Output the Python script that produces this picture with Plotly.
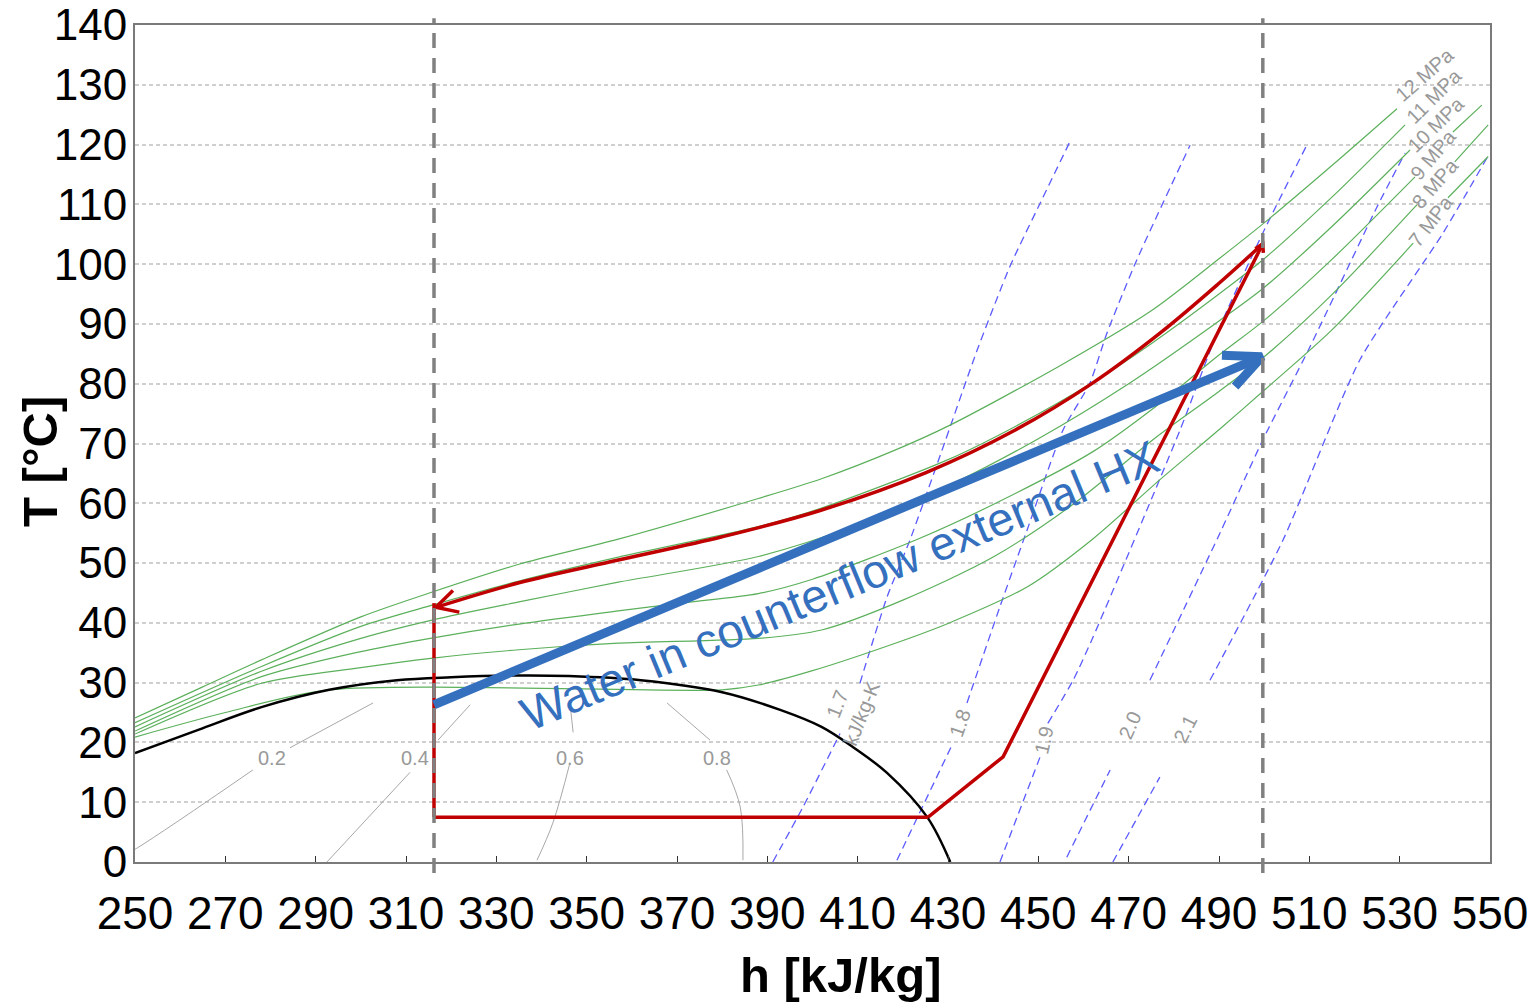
import math
import plotly.graph_objects as go

# ---------------- data ----------------
h_ticks = list(range(250, 551, 20))
T_ticks = list(range(0, 141, 10))

# CO2 saturation dome
dome_h = [250, 264, 278, 293, 308, 320, 335, 346, 362, 380, 393, 402, 409, 416.5, 425.4, 430.5]
dome_T = [18.2, 22.1, 25.9, 28.8, 30.4, 30.9, 31.2, 31.1, 30.4, 28.4, 25.4, 22.6, 19.2, 14.9, 7.5, 0.0]

# isobars [MPa]; None marks the gap left for the label
p12_h = [250, 265, 278, 300, 316, 335, 357, 388, 402, 418, 430, 455, 475, 490, 500, 515, 529.4]
p12_T = [24.1, 29.3, 33.8, 41.0, 45.2, 49.8, 54.0, 60.8, 64.1, 68.8, 72.9, 83.1, 92.2, 100.9, 106.9, 116.5, 126.0]
p11_h = [250, 278, 300, 316, 335, 357, 388, 402, 430, 445, 462, 475, 490, 500, 515, 531.2]
p11_T = [23.3, 32.7, 39.4, 43.0, 47.0, 51.0, 56.1, 59.2, 67.3, 72.9, 80.2, 86.7, 95.0, 100.9, 111.2, 123.3]
p10_h = [250, 278, 300, 316, 335, 357, 388, 410, 430, 450, 470, 490, 500, 515, 532.3]
p10_T = [22.6, 31.9, 37.4, 40.5, 43.5, 46.8, 51.1, 56.4, 62.9, 70.8, 80.0, 90.5, 96.1, 106.3, 119.1]
p9_h = [250, 278, 300, 316, 335, 357, 372, 388, 400, 423, 440, 462, 476, 490, 500, 515, 533.4, None, 541.8, 548.2]
p9_T = [21.9, 31.0, 35.2, 37.5, 39.8, 42.0, 43.4, 44.9, 47.3, 53.9, 59.8, 68.6, 76.2, 84.8, 90.6, 100.8, 114.6, None, 122.1, 126.6]
p8_h = [250, 278, 300, 316, 335, 357, 388, 402, 420, 440, 458, 476, 490, 500, 515, 533.8, None, 542.2, 549.6]
p8_T = [21.4, 29.9, 32.5, 34.1, 35.5, 36.6, 37.4, 38.8, 43.8, 51.0, 60.0, 71.0, 78.7, 84.5, 94.9, 109.9, None, 117.1, 123.3]
p7_h = [250, 270, 293, 380, 388, 400, 418, 430, 447.5, 462, 477, 490, 500, 515, 533.0, None, 540.7, 549.6]
p7_T = [20.9, 25.0, 28.8, 28.8, 29.6, 32.0, 36.5, 39.9, 46.0, 54.0, 64.0, 72.3, 78.9, 89.0, 103.5, None, 111.1, 118.0]
isobar_names = ["12 MPa", "11 MPa", "10 MPa", "9 MPa", "8 MPa", "7 MPa"]

# isentropes [kJ/kg-K]; None marks the label gap
s17_h = [391.2, 397.9, 406.1, None, 410.5, 416.5, 421.6, 428.5, 436.4, 443.7, 450.4, 457.0]
s17_T = [0.0, 9.2, 21.5, None, 29.9, 44.3, 53.9, 68.5, 85.5, 99.6, 110.2, 120.5]
s18_h = [418.7, 431.1, None, 434.2, 441.5, 447.5, 455.5, 461.4, 465.2, 471.8, 483.6]
s18_T = [0.3, 19.9, None, 26.6, 42.7, 55.5, 72.3, 80.1, 88.5, 100.7, 119.9]
s19_h = [441.5, 450.4, None, 452.1, 457.7, 462.1, 481.4, 489.6, 499.7, 509.3]
s19_T = [0.0, 17.6, None, 23.2, 30.4, 37.6, 72.3, 88.5, 105.2, 119.7]
s20_h = [456.3, 465.9, None, 474.7, 490.2, 499.7, 510.1, 525.0, 531.2]
s20_T = [0.8, 15.4, None, 30.4, 55.0, 70.6, 86.1, 109.6, 118.6]
s21_h = [466.5, 476.9, None, 488.0, 504.2, 521.2, 539.6, 549.5]
s21_T = [0.0, 14.2, None, 30.4, 53.9, 84.0, 105.2, 118.0]
isentrope_names = ["1.7<br>kJ/kg-K", "1.8", "1.9", "2.0", "2.1"]

# vapour quality lines
x02_h = [245.0, 250.4, 276.1, None, 284.3, 302.7]
x02_T = [0.0, 2.3, 15.4, None, 19.1, 26.6]
x04_h = [292.5, 310.9, None, 317.1, 324.2]
x04_T = [0.0, 15.0, None, 20.4, 26.3]
x06_h = [339.0, 342.5, 346.3, None, 347.0, 346.3]
x06_T = [0.3, 6.5, 16.6, None, 21.7, 26.6]
x08_h = [384.6, 384.0, 381.0, None, 377.3, 367.8]
x08_T = [0.3, 9.2, 15.4, None, 20.4, 26.6]
quality_names = ["0.2", "0.4", "0.6", "0.8"]
quality_label_h = [280.3, 312.0, 346.3, 378.9]
quality_label_T = 17.4

# heat-pump cycle
gc_h = [499.7, 490.0, 477.0, 462.0, 445.0, 425.0, 401.7, 380.0, 357.0, 335.0, 316.6]
gc_T = [103.4, 96.8, 88.5, 80.1, 72.3, 65.1, 58.8, 54.4, 50.5, 46.7, 42.6]
exp_h = [316.2, 316.2]
exp_T = [43.3, 7.5]
evap_h = [316.2, 425.6]
evap_T = [7.5, 7.5]
comp_h = [425.6, 442.2, 499.7]
comp_T = [7.5, 17.6, 103.4]

# water stream
water_h = [316.2, 499.5]
water_T = [26.3, 84.5]

# heat-exchanger limits
hx_limits_h = [316.2, 499.7]

# ---------------- layout geometry ----------------
W, H = 1535, 1007
ML, MR, MT, MB = 135, 45, 25, 145
XR = [250, 550]
YR = [0, 140]
SX = (W - ML - MR) / (XR[1] - XR[0])
SY = (H - MT - MB) / (YR[1] - YR[0])

FONT = "Liberation Sans, Arial, sans-serif"
LABEL_GREY = "#999999"
GREEN = "#5cb05c"
ISEN_BLUE = "#5a5aff"
RED = "#c00000"
WATER_BLUE = "#3470be"

# (along-line, sideways) distance in px from the end of an open-ended isobar to its label centre;
# a negative sideways value moves the label up and to the left
END_LABEL_OFFSET = {"12 MPa": (44, -7), "11 MPa": (41, 0), "10 MPa": (37, 0)}


def chevron(tip_h, tip_T, from_h, from_T, length_px, angle_deg):
    """Open arrow head at (tip_h, tip_T) for a shaft coming from (from_h, from_T)."""
    dx = (from_h - tip_h) * SX
    dy = (from_T - tip_T) * SY
    n = math.hypot(dx, dy)
    ux, uy = dx / n, dy / n
    xs, ys = [], []
    for sgn in (1, -1):
        a = math.radians(angle_deg) * sgn
        rx = ux * math.cos(a) - uy * math.sin(a)
        ry = ux * math.sin(a) + uy * math.cos(a)
        xs.append(tip_h + rx * length_px / SX)
        ys.append(tip_T + ry * length_px / SY)
    return [xs[0], tip_h, xs[1]], [ys[0], tip_T, ys[1]]


def screen_angle(h0, T0, h1, T1):
    return -math.degrees(math.atan2((T1 - T0) * SY, (h1 - h0) * SX))


def gap_label(hs, Ts):
    """Midpoint and on-screen angle of the gap marked by None."""
    i = hs.index(None)
    h0, T0, h1, T1 = hs[i - 1], Ts[i - 1], hs[i + 1], Ts[i + 1]
    return (h0 + h1) / 2, (T0 + T1) / 2, screen_angle(h0, T0, h1, T1)


def end_label(hs, Ts, offset):
    """Label centre placed beyond the last point, following the line direction."""
    along, side = offset
    h0, T0, h1, T1 = hs[-2], Ts[-2], hs[-1], Ts[-1]
    dx, dy = (h1 - h0) * SX, (T1 - T0) * SY
    n = math.hypot(dx, dy)
    ux, uy = dx / n, dy / n
    px = ux * along + uy * side
    py = uy * along - ux * side
    return h1 + px / SX, T1 + py / SY, screen_angle(h0, T0, h1, T1)


fig = go.Figure()

# quality lines
qualities = [(x02_h, x02_T), (x04_h, x04_T), (x06_h, x06_T), (x08_h, x08_T)]
for hs, Ts in qualities:
    fig.add_trace(go.Scatter(x=hs, y=Ts, mode="lines", line=dict(color="#a8a8a8", width=1, shape="spline"),
                             hoverinfo="skip", showlegend=False))

# isentropes
isentropes = [(s17_h, s17_T), (s18_h, s18_T), (s19_h, s19_T), (s20_h, s20_T), (s21_h, s21_T)]
for hs, Ts in isentropes:
    fig.add_trace(go.Scatter(x=hs, y=Ts, mode="lines",
                             line=dict(color=ISEN_BLUE, width=1.3, dash="8px,5px", shape="spline", smoothing=0.6),
                             hoverinfo="skip", showlegend=False))

# isobars
isobars = [(p12_h, p12_T), (p11_h, p11_T), (p10_h, p10_T), (p9_h, p9_T), (p8_h, p8_T), (p7_h, p7_T)]
for hs, Ts in isobars:
    fig.add_trace(go.Scatter(x=hs, y=Ts, mode="lines", line=dict(color=GREEN, width=1.2, shape="spline", smoothing=0.8),
                             hoverinfo="skip", showlegend=False))

# saturation dome
fig.add_trace(go.Scatter(x=dome_h, y=dome_T, mode="lines", line=dict(color="black", width=2.5, shape="spline"),
                         hoverinfo="skip", showlegend=False))

# cycle
fig.add_trace(go.Scatter(x=gc_h, y=gc_T, mode="lines", line=dict(color=RED, width=3.5, shape="spline"),
                         hoverinfo="skip", showlegend=False))
for hs, Ts in [(exp_h, exp_T), (evap_h, evap_T), (comp_h, comp_T)]:
    fig.add_trace(go.Scatter(x=hs, y=Ts, mode="lines", line=dict(color=RED, width=3.5),
                             hoverinfo="skip", showlegend=False))
ah, aT = chevron(gc_h[-1], gc_T[-1], gc_h[-2], gc_T[-2], 24, 28)
fig.add_trace(go.Scatter(x=ah, y=aT, mode="lines", line=dict(color=RED, width=3.5),
                         hoverinfo="skip", showlegend=False))
ah, aT = chevron(comp_h[-1], comp_T[-1], comp_h[-2], comp_T[-2], 9, 30)
fig.add_trace(go.Scatter(x=ah, y=aT, mode="lines", line=dict(color=RED, width=3.5),
                         hoverinfo="skip", showlegend=False))

# water arrow
fig.add_trace(go.Scatter(x=water_h, y=water_T, mode="lines", line=dict(color=WATER_BLUE, width=9),
                         hoverinfo="skip", showlegend=False))
ah, aT = chevron(water_h[1], water_T[1], water_h[0], water_T[0], 40, 25)
fig.add_trace(go.Scatter(x=ah, y=aT, mode="lines", line=dict(color=WATER_BLUE, width=9),
                         hoverinfo="skip", showlegend=False))

# heat-exchanger limits (reach slightly past the frame)
for hx in hx_limits_h:
    fig.add_shape(type="line", x0=hx, x1=hx, y0=-0.013, y1=1.008, xref="x", yref="paper",
                  line=dict(color="#808080", width=3.5, dash="15px,10px"), layer="above")

annotations = []
# isobar labels
for (hs, Ts), name in zip(isobars, isobar_names):
    if None in hs:
        lh, lT, ang = gap_label(hs, Ts)
    else:
        lh, lT, ang = end_label(hs, Ts, END_LABEL_OFFSET[name])
    annotations.append(dict(x=lh, y=lT, text=name, showarrow=False, textangle=ang,
                            font=dict(family=FONT, size=20, color=LABEL_GREY)))
# isentrope labels
for (hs, Ts), name in zip(isentropes, isentrope_names):
    lh, lT, ang = gap_label(hs, Ts)
    annotations.append(dict(x=lh, y=lT, text=name, showarrow=False, textangle=ang,
                            font=dict(family=FONT, size=20, color=LABEL_GREY)))
# quality labels
for lh, name in zip(quality_label_h, quality_names):
    annotations.append(dict(x=lh, y=quality_label_T, text=name, showarrow=False,
                            font=dict(family=FONT, size=20, color=LABEL_GREY)))

annotations.append(dict(x=405.9, y=46.3, text="Water in counterflow external HX", showarrow=False,
                        textangle=-22.5, font=dict(family=FONT, size=47, color=WATER_BLUE)))
annotations.append(dict(x=0.5203, y=-0.135, xref="paper", yref="paper", xanchor="center", yanchor="middle",
                        text="<b>h [kJ/kg]</b>", showarrow=False, font=dict(family=FONT, size=49, color="black")))
annotations.append(dict(x=-0.0701, y=0.478, xref="paper", yref="paper", xanchor="center", yanchor="middle",
                        text="<b>T [°C]</b>", showarrow=False, textangle=-90,
                        font=dict(family=FONT, size=49, color="black")))

fig.update_layout(
    width=W, height=H,
    margin=dict(l=ML, r=MR, t=MT, b=MB, autoexpand=False),
    paper_bgcolor="white", plot_bgcolor="white",
    annotations=annotations,
    showlegend=False,
)
fig.update_xaxes(range=XR, tickvals=h_ticks, ticks="inside", ticklen=6, tickcolor="#333333", automargin=False,
                 showgrid=False, zeroline=False, showline=True, linecolor="#7a7a7a", linewidth=2, mirror=True,
                 tickfont=dict(family=FONT, size=46, color="black"), ticklabelstandoff=10)
fig.update_yaxes(range=YR, tickvals=T_ticks, ticks="", showgrid=True, gridcolor="#cfcfcf", gridwidth=1.5,
                 griddash="4px,3px", zeroline=False, showline=True, linecolor="#7a7a7a", linewidth=2, mirror=True,
                 automargin=False, tickfont=dict(family=FONT, size=44, color="black"), ticklabelstandoff=-3)

fig.write_html("out.html")
